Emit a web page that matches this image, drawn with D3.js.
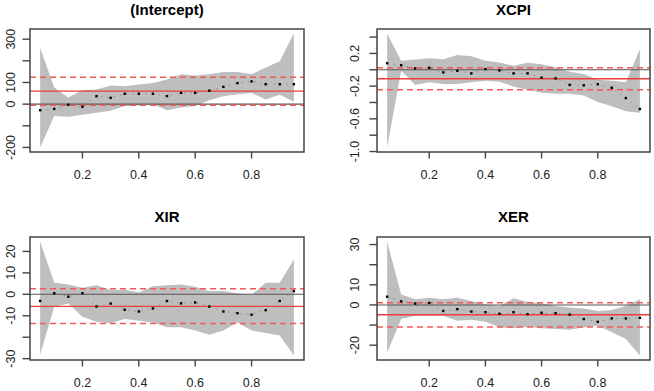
<!DOCTYPE html>
<html><head><meta charset="utf-8">
<script src="https://cdn.jsdelivr.net/npm/d3@7"></script>
<style>body{margin:0;background:#fff}svg{display:block}</style>
</head><body>
<svg id="c" width="654" height="391"></svg>
<script>
const taus = [0.05,0.10,0.15,0.20,0.25,0.30,0.35,0.40,0.45,0.50,0.55,0.60,0.65,0.70,0.75,0.80,0.85,0.90,0.95];
const titles = ["(Intercept)","XCPI","XIR","XER"];

const interceptCoef  = [-28,-22,-3,-12,37,29,48,48,48,37,52,52,62,80,97,105,92,92,92];
const interceptUpper = [260,77,31,65,68,86,83,91,98,114,138,132,138,148,148,138,169,198,326];
const interceptLower = [-200,-55,-58,-49,-40,-31,-9,-6,0,-28,-15,-9,18,37,46,52,22,43,11];

const cpiCoef  = [0.08,0.056,0.016,0.024,-0.032,-0.012,-0.044,0.008,-0.008,-0.044,-0.044,-0.097,-0.105,-0.185,-0.19,-0.177,-0.22,-0.346,-0.48];
const cpiUpper = [0.443,0.109,0.125,0.141,0.129,0.181,0.165,0.109,0.089,0.048,0.085,0.068,0.028,-0.024,-0.052,-0.121,-0.133,-0.153,0.25];
const cpiLower = [-0.95,-0.012,-0.185,-0.153,-0.173,-0.173,-0.153,-0.133,-0.145,-0.205,-0.245,-0.282,-0.294,-0.294,-0.314,-0.394,-0.447,-0.507,-0.527];

const irCoef  = [-3.1,0.5,-1.1,0.5,-5.7,-4.3,-7.2,-8.0,-6.6,-3.1,-4.2,-3.8,-5.7,-8.0,-8.8,-9.5,-7.4,-3.1,1.5];
const irUpper = [24.6,5.4,4.6,3.1,4.2,2.0,2.3,0.8,3.8,4.2,4.6,3.5,1.5,1.5,0.5,-0.2,5.4,5.4,16.2];
const irLower = [-28.2,-5.8,-4.3,-10.5,-12.8,-13.5,-11.5,-12.3,-13.1,-15.4,-15.4,-16.9,-18.9,-16.9,-13.1,-16.9,-18.0,-19.2,-28.5];

const erCoef  = [4.1,1.8,0.7,1.0,-3.0,-2.1,-3.3,-3.6,-4.4,-3.6,-4.6,-3.9,-4.1,-4.8,-7.0,-8.4,-6.7,-6.7,-6.4];
const erUpper = [31.5,5.2,2.8,3.6,2.8,3.6,2.0,0.3,-0.5,3.3,1.5,0.8,-0.5,-1.3,-1.8,-3.0,-2.5,-0.5,2.8];
const erLower = [-23.8,-7.0,-5.4,-5.4,-5.4,-7.9,-7.4,-8.4,-11.1,-11.6,-10.8,-11.6,-12.0,-12.3,-11.1,-10.3,-13.6,-16.9,-25.1];

const olsEst   = [60, -0.11, -5.6, -4.9];
const olsLower = [-5, -0.245, -13.6, -11.0];
const olsUpper = [124, 0.025, 2.6, 1.1];

const xTicks = [0.2,0.4,0.6,0.8];
const yTicksList  = [[-200,-100,0,100,200,300],[-1.0,-0.8,-0.6,-0.4,-0.2,0,0.2,0.4],[-30,-20,-10,0,10,20],[-20,-10,0,10,20,30]];
const yLabelsList = [[-200,0,100,300],[-1.0,-0.6,-0.2,0.2],[-30,-10,0,10,20],[-20,0,10,30]];

const coefs  = [interceptCoef, cpiCoef, irCoef, erCoef];
const uppers = [interceptUpper, cpiUpper, irUpper, erUpper];
const lowers = [interceptLower, cpiLower, irLower, erLower];

const boxes = [
  {x0:30, x1:304, y0:29, y1:152, title:15, ylab:15},
  {x0:377, x1:650, y0:29, y1:152, title:15, ylab:358.5},
  {x0:30, x1:304, y0:237, y1:360, title:222, ylab:15},
  {x0:377, x1:650, y0:237, y1:360, title:222, ylab:358.5}
];

const svg = d3.select("#c");
const font = "'Liberation Sans', Arial, sans-serif";

boxes.forEach((b, i) => {
  const xr = 0.9*0.04;
  const x = d3.scaleLinear().domain([0.05 - xr, 0.95 + xr]).range([b.x0, b.x1]);
  const lo = d3.min(lowers[i]), hi = d3.max(uppers[i]);
  const pad = (hi - lo)*0.04;
  const y = d3.scaleLinear().domain([lo - pad, hi + pad]).range([b.y1, b.y0]);
  const g = svg.append("g");
  const clipId = "clip"+i;
  svg.append("clipPath").attr("id", clipId).append("rect")
    .attr("x", b.x0).attr("y", b.y0).attr("width", b.x1-b.x0).attr("height", b.y1-b.y0);
  const inner = g.append("g").attr("clip-path", `url(#${clipId})`);

  const band = d3.area().x((d,j)=>x(taus[j])).y0((d,j)=>y(lowers[i][j])).y1((d,j)=>y(uppers[i][j]));
  inner.append("path").datum(taus).attr("d", band).attr("fill", "#bebebe");

  // zero line
  inner.append("line").attr("x1", b.x0).attr("x2", b.x1).attr("y1", y(0)).attr("y2", y(0))
    .attr("stroke", "#555").attr("stroke-width", 1.1);
  // OLS lines
  inner.append("line").attr("x1", b.x0).attr("x2", b.x1).attr("y1", y(olsEst[i])).attr("y2", y(olsEst[i]))
    .attr("stroke", "#f03c3c").attr("stroke-width", 1.4);
  [olsLower[i], olsUpper[i]].forEach(v => {
    inner.append("line").attr("x1", b.x0).attr("x2", b.x1).attr("y1", y(v)).attr("y2", y(v))
      .attr("stroke", "#f25a5a").attr("stroke-width", 1.5).attr("stroke-dasharray", "6,4");
  });

  // coefficient line + points
  const ln = d3.line().x((d,j)=>x(taus[j])).y(d=>y(d));
  inner.append("path").datum(coefs[i]).attr("d", ln).attr("fill","none")
    .attr("stroke", "#777").attr("stroke-width", 0.7).attr("stroke-dasharray", "1.5,5");
  inner.selectAll("rect.p").data(coefs[i]).join("rect")
    .attr("x", (d,j)=>x(taus[j])-1.2).attr("y", d=>y(d)-1.2).attr("width", 2.4).attr("height", 2.4).attr("fill", "#000");

  // box
  g.append("rect").attr("x", b.x0).attr("y", b.y0).attr("width", b.x1-b.x0).attr("height", b.y1-b.y0)
    .attr("fill","none").attr("stroke","#444").attr("stroke-width",1.5);

  // x axis
  xTicks.forEach(t => {
    g.append("line").attr("x1", x(t)).attr("x2", x(t)).attr("y1", b.y1).attr("y2", b.y1+6.5)
      .attr("stroke","#444").attr("stroke-width",1.4);
    g.append("text").attr("x", x(t)).attr("y", b.y1+27).attr("text-anchor","middle")
      .attr("font-family", font).attr("font-size", "12.5px").attr("fill","#222").text(d3.format(".1f")(t));
  });
  // y axis
  yTicksList[i].forEach(t => {
    g.append("line").attr("x1", b.x0-7.5).attr("x2", b.x0).attr("y1", y(t)).attr("y2", y(t))
      .attr("stroke","#444").attr("stroke-width",1.4);
  });
  const fmt = i === 1 ? d3.format(".1f") : d3.format("d");
  yLabelsList[i].forEach(t => {
    g.append("text").attr("transform", `translate(${b.ylab},${y(t)}) rotate(-90)`)
      .attr("text-anchor","middle").attr("font-family", font).attr("font-size","12.5px")
      .attr("fill","#222").text(fmt(t).replace("\u2212", "-"));
  });
  // title
  g.append("text").attr("x", (b.x0+b.x1)/2).attr("y", b.title).attr("text-anchor","middle")
    .attr("font-family", font).attr("font-size","15px").attr("font-weight","bold").attr("fill","#000")
    .text(titles[i]);
});
</script>
</body></html>
